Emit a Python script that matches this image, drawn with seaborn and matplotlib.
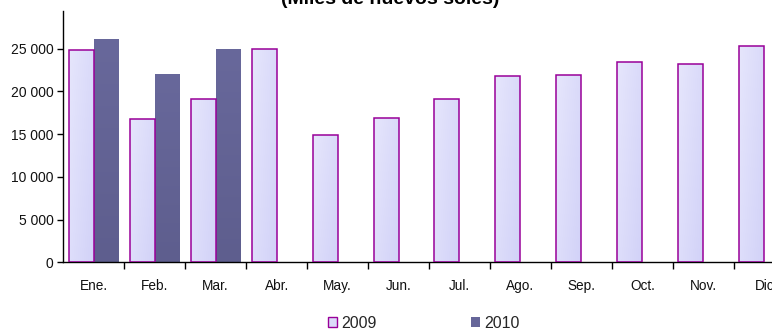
import numpy as np
import pandas as pd
import matplotlib
matplotlib.use("Agg")
import matplotlib.pyplot as plt
import seaborn as sns
from matplotlib.patches import Patch
from matplotlib.colors import LinearSegmentedColormap

months = ["Ene.", "Feb.", "Mar.", "Abr.", "May.", "Jun.", "Jul.", "Ago.", "Sep.", "Oct.", "Nov.", "Dic"]
v2009 = [24850, 16810, 19080, 25000, 14935, 16925, 19080, 21800, 21960, 23480, 23210, 25320]
v2010 = [26100, 22000, 25000, np.nan, np.nan, np.nan, np.nan, np.nan, np.nan, np.nan, np.nan, np.nan]
years = ["2009", "2010"]
yticks = [0, 5000, 10000, 15000, 20000, 25000]
ytick_labels = ["0", "5 000", "10 000", "15 000", "20 000", "25 000"]
title = "(Miles de nuevos soles)"

df = pd.DataFrame({
    "Mes": months * 2,
    "Año": [years[0]] * 12 + [years[1]] * 12,
    "Valor": v2009 + v2010,
})

sns.set_theme(style="white")
plt.rcParams["font.family"] = ["Liberation Sans", "DejaVu Sans"]

fig = plt.figure(figsize=(7.72, 3.30), dpi=100)
W, H = 772, 330
ax_left, ax_right = 63.3, 63.3 + 12 * 60.95
ax_bottom_px, ax_top_px = 262.3, 11
ax = fig.add_axes([ax_left / W, (H - ax_bottom_px) / H,
                   (ax_right - ax_left) / W, (ax_bottom_px - ax_top_px) / H])

c2009 = "#DCDCFA"
c2010 = "#666699"
sns.barplot(data=df, x="Mes", y="Valor", hue="Año", hue_order=years, order=months,
            palette=[c2009, c2010], width=0.82, legend=False, ax=ax, saturation=1)

ax.set_xlim(-0.5, 11.5)
ax.set_ylim(0, 29400)

# style bars (light gradient fills as in the reference)
grad09 = LinearSegmentedColormap.from_list("g09", ["#E6E6FC", "#D2D2F8"])
grad10 = LinearSegmentedColormap.from_list("g10", ["#68689B", "#5E5E8E"])
for i, cont in enumerate(ax.containers):
    for p in cont.patches:
        h = p.get_height()
        if not np.isfinite(h) or h == 0:
            continue
        x0 = p.get_x()
        w = p.get_width()
        if i == 0:
            xx, yy = np.meshgrid(np.linspace(0, 1, 40), np.linspace(0, 1, 80))
            img = 0.6 * xx + 0.4 * yy
            cmap = grad09
            p.set_edgecolor("#990099")
            p.set_linewidth(1.1)
        else:
            yy = np.linspace(0, 1, 80)[:, None] * np.ones((1, 10))
            img = yy
            cmap = grad10
            p.set_edgecolor("none")
        p.set_facecolor("none")
        p.set_zorder(3)
        im = ax.imshow(img, extent=(x0, x0 + w, 0, h), origin="upper", cmap=cmap,
                       aspect="auto", zorder=2, interpolation="bilinear", vmin=0, vmax=1)
        im.set_clip_path(p)

ax.set_xlim(-0.5, 11.5)
ax.set_ylim(0, 29400)

# axes styling
for s in ["top", "right"]:
    ax.spines[s].set_visible(False)
for s in ["left", "bottom"]:
    ax.spines[s].set_color("black")
    ax.spines[s].set_linewidth(1.0)

ax.set_yticks(yticks)
ax.set_yticklabels(ytick_labels, fontsize=10, color="#111111")
ax.tick_params(axis="y", direction="out", length=4, width=1, color="black", left=True, pad=3)

ax.set_xticks(np.arange(0.5, 11.5, 1.0))
ax.set_xticklabels([])
ax.tick_params(axis="x", which="major", direction="out", length=5, width=1, color="black", bottom=True)
ax.set_xticks(np.arange(12), minor=True)
ax.set_xticklabels(months, minor=True, fontsize=9.8, color="#111111")
ax.tick_params(axis="x", which="minor", length=0, pad=12)
ax.set_xlabel("")
ax.set_ylabel("")
ax.grid(False)

fig.text(390 / W, 1 - 4 / H, title, ha="center", va="baseline",
         fontsize=14, fontweight="bold", color="black")

handles = [Patch(facecolor=c2009, edgecolor="#990099", linewidth=1.0, label="2009"),
           Patch(facecolor=c2010, edgecolor="none", label="2010")]
fig.legend(handles=handles, loc="center", bbox_to_anchor=(424 / W, 1 - 323 / H),
           ncol=2, frameon=False, fontsize=11.5, handlelength=0.55, handleheight=0.55,
           handletextpad=0.3, columnspacing=5.9, borderaxespad=0, borderpad=0)

fig.savefig("out.png", dpi=100)
